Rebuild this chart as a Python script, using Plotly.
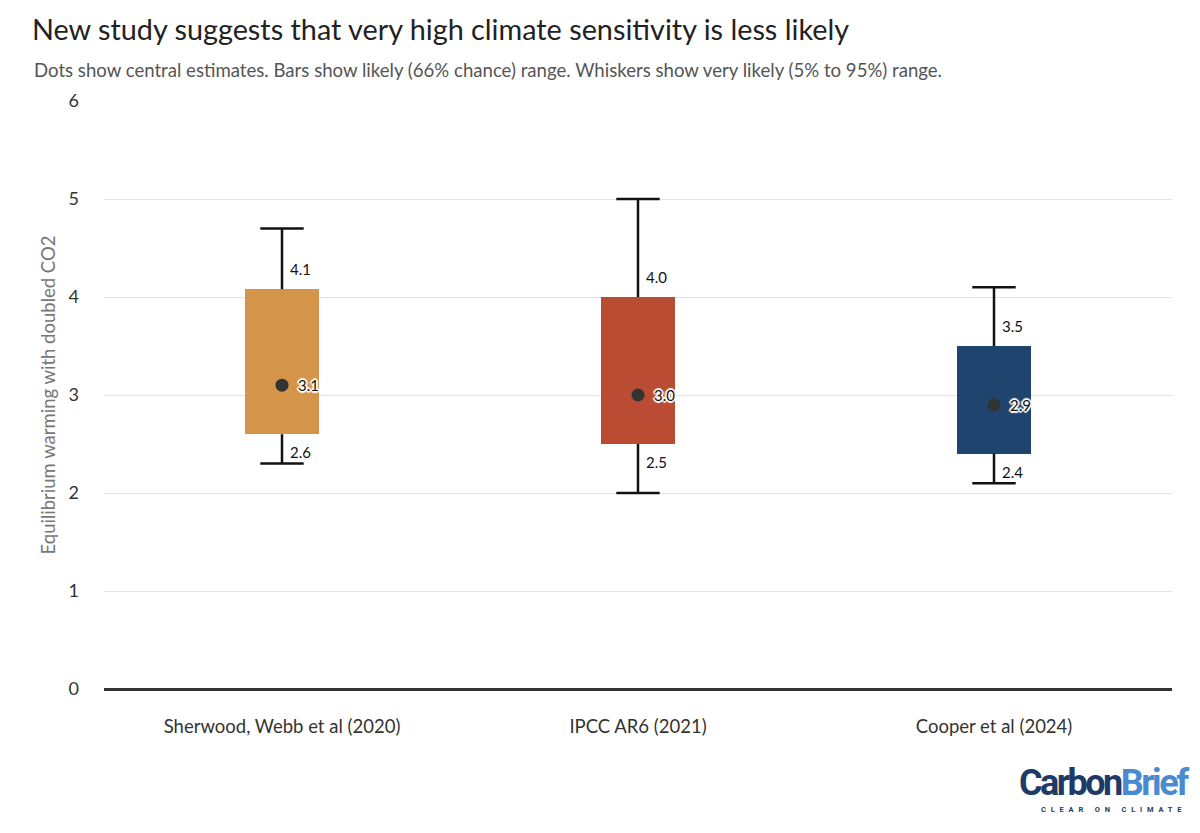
import plotly.graph_objects as go

categories = ["Sherwood, Webb et al (2020)", "IPCC AR6 (2021)", "Cooper et al (2024)"]
central = [3.1, 3.0, 2.9]
likely_low = [2.6, 2.5, 2.4]
likely_high = [4.08, 4.0, 3.5]
very_likely_low = [2.3, 2.0, 2.1]
very_likely_high = [4.7, 5.0, 4.1]
colors = ["#D4954A", "#B94C33", "#1F446E"]
y_ticks = [0, 1, 2, 3, 4, 5, 6]

FONT = "Lato, 'Noto Sans', sans-serif"
INK = "#333333"
W, H = 1192, 825          # page adds an 8px body margin
L, R, T, B = 96, 28, 93, 144
PW, PH = W - L - R, H - T - B

def px(x):   # figure px -> paper x
    return (x - L) / PW

def py(y):   # figure px -> paper y
    return 1 - (y - T) / PH

fig = go.Figure()

fig.add_trace(go.Bar(
    x=categories,
    y=[h - l for h, l in zip(likely_high, likely_low)],
    base=likely_low,
    width=0.208,
    marker=dict(color=colors, line=dict(width=0)),
    hoverinfo="skip",
    showlegend=False,
))

wx, wy = [], []
for c, lo, hi, vlo, vhi in zip(categories, likely_low, likely_high, very_likely_low, very_likely_high):
    wx += [c, c, None, c, c, None]
    wy += [hi, vhi, None, vlo, lo, None]
fig.add_trace(go.Scatter(
    x=wx, y=wy, mode="lines",
    line=dict(color="#111111", width=2.5),
    hoverinfo="skip", showlegend=False,
))

fig.add_trace(go.Scatter(
    x=categories + categories,
    y=very_likely_high + very_likely_low,
    mode="markers",
    marker=dict(symbol="line-ew", size=31, color="#111111",
                line=dict(color="#111111", width=2.5)),
    hoverinfo="skip", showlegend=False,
))

fig.add_trace(go.Scatter(
    x=categories, y=central,
    mode="markers",
    marker=dict(color=INK, size=13),
    hoverinfo="skip", showlegend=False,
))

LBL = dict(family=FONT, size=15, color="#111111")
HALO = ("1px 1px 1px #fff, -1px -1px 1px #fff, 1px -1px 1px #fff, -1px 1px 1px #fff, "
        "2px 0 1px #fff, -2px 0 1px #fff, 0 2px 1px #fff, 0 -2px 1px #fff")
annotations = []
for c, lo, hi, mid in zip(categories, likely_low, likely_high, central):
    annotations.append(dict(x=c, y=hi, xref="x", yref="y", text=f"{hi:.1f}",
                            showarrow=False, xanchor="left", yanchor="bottom",
                            xshift=6, yshift=9, font=LBL))
    annotations.append(dict(x=c, y=lo, xref="x", yref="y", text=f"{lo:.1f}",
                            showarrow=False, xanchor="left", yanchor="top",
                            xshift=6, yshift=-7, font=LBL))
    annotations.append(dict(x=c, y=mid, xref="x", yref="y", text=f"{mid:.1f}",
                            showarrow=False, xanchor="left", yanchor="middle",
                            xshift=14, yshift=0, font=dict(LBL, shadow=HALO)))

LOGO = "Roboto, 'Liberation Sans', sans-serif"
annotations += [
    dict(text="Dots show central estimates. Bars show likely (66% chance) range. Whiskers show very likely (5% to 95%) range.",
         xref="paper", yref="paper", x=px(24), y=py(62),
         xanchor="left", yanchor="middle", showarrow=False,
         font=dict(size=18.6, color="#555555", family=FONT)),
    dict(text=("<b><span style='letter-spacing:-2.5px;color:#1E3A66'>Carbon</span>"
               "<span style='letter-spacing:-2.4px;color:#4A8AD0'>Brief</span></b>"),
         xref="paper", yref="paper",
         x=px(1183), y=py(775), xanchor="right", yanchor="middle", showarrow=False,
         font=dict(size=36, color="#1E3A66", family=LOGO)),
    dict(text="<b><span style='letter-spacing:4.8px'>CLEAR ON CLIMATE</span></b>", xref="paper", yref="paper",
         x=px(1180), y=py(801), xanchor="right", yanchor="middle", showarrow=False,
         font=dict(size=7.5, color="#1E3A66", family=LOGO)),
]

fig.update_layout(
    width=W, height=H,
    paper_bgcolor="white", plot_bgcolor="white",
    margin=dict(l=L, r=R, t=T, b=B),
    font=dict(family=FONT, color=INK),
    title=dict(
        text="New study suggests that very high climate sensitivity is less likely",
        x=24 / W, xanchor="left", xref="container",
        y=1 - 22 / H, yanchor="middle", yref="container",
        font=dict(size=28.8, color="#222222", family=FONT),
    ),
    annotations=annotations,
    bargap=0,
    xaxis=dict(
        type="category",
        showgrid=False, showline=False, ticks="",
        tickfont=dict(size=18.5, color=INK),
        ticklabelstandoff=24,
        fixedrange=True,
    ),
    yaxis=dict(
        range=[0, 6],
        tickvals=y_ticks,
        showgrid=True, gridcolor="#e3e3e3", gridwidth=1,
        zeroline=True, zerolinecolor=INK, zerolinewidth=3,
        showline=False, ticks="",
        tickfont=dict(size=18, color=INK),
        ticklabelstandoff=24,
        title=dict(text="Equilibrium warming with doubled CO2",
                   font=dict(size=18.5, color="#777777"), standoff=8),
        fixedrange=True,
    ),
)

fig.write_html("out.html")
